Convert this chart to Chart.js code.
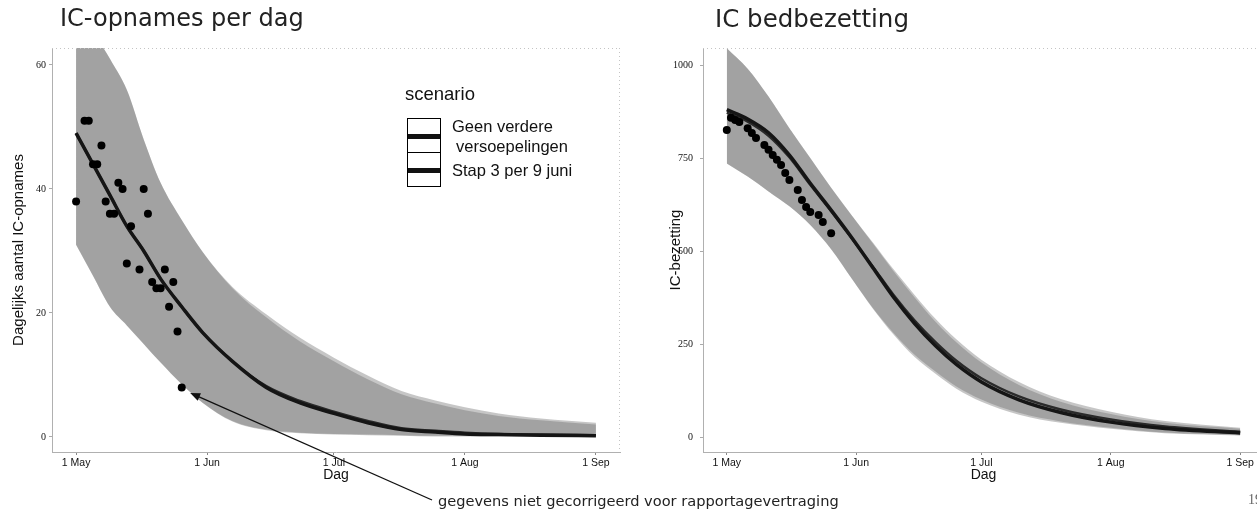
<!DOCTYPE html>
<html>
<head>
<meta charset="utf-8">
<script src="https://cdn.jsdelivr.net/npm/chart.js@4.4.1/dist/chart.umd.min.js"></script>
<style>
  body { margin: 0; background: #fff; width: 1257px; height: 515px; overflow: hidden; position: relative; font-family: "Liberation Sans", Arial, sans-serif; color: #111; }
  canvas { position: absolute; top: 0; }
  .title { position: absolute; top: 4px; font: 24px "DejaVu Sans", sans-serif; color: #222; }
  .abs { position: absolute; white-space: nowrap; }
  .key { position: absolute; left: 407px; width: 32px; height: 33px; border: 1.5px solid #000; border-bottom: none; background: #fff; }
  .key .bar { position: absolute; left: 0; right: 0; top: 15px; height: 5px; background: #111; }
</style>
</head>
<body>
<canvas id="c1" width="630" height="515" style="left:0"></canvas>
<canvas id="c2" width="630" height="515" style="left:640px"></canvas>

<div class="title" style="left:60px">IC-opnames per dag</div>
<div class="title" style="left:715px;font-size:24.5px">IC bedbezetting</div>

<div class="abs" style="left:405px;top:83px;font-size:18.5px">scenario</div>
<div class="key" style="top:118px"><div class="bar"></div></div>
<div class="key" style="top:152px;height:33px;border-bottom:1.5px solid #000"><div class="bar"></div></div>
<div class="abs" style="left:452px;top:117px;font-size:16.5px">Geen verdere</div>
<div class="abs" style="left:456px;top:137px;font-size:16.5px">versoepelingen</div>
<div class="abs" style="left:452px;top:161px;font-size:16.5px">Stap 3 per 9 juni</div>

<div class="abs" style="left:438px;top:492px;font:14.6px 'DejaVu Sans',sans-serif;color:#222">gegevens niet gecorrigeerd voor rapportagevertraging</div>
<div class="abs" style="left:1248px;top:492px;font:14px 'Liberation Serif',serif;color:#666">19</div>

<script>
// days since 1 May
const tickDays = [0, 31, 61, 92, 123];
const tickLabels = ['1 May', '1 Jun', '1 Jul', '1 Aug', '1 Sep'];

// IC-opnames per dag
const opnTicks = [0, 20, 40, 60];
const opnDays = [0, 4, 8, 12, 16, 20, 25, 30, 37, 45, 53, 61, 69, 77, 85, 92, 100, 110, 123];
const opnLine1 = [49, 44, 39, 34, 30, 25.5, 21, 16.8, 12.2, 8, 5.5, 3.8, 2.3, 1.2, 0.8, 0.5, 0.4, 0.3, 0.2];
const opnLine2 = [49, 44, 39, 34, 30, 25.5, 21, 16.8, 12.2, 8.2, 5.8, 4.1, 2.6, 1.4, 1.0, 0.7, 0.5, 0.4, 0.3];
const opnUpper1 = [75, 66, 61, 56, 48, 41, 35, 29.8, 24, 19.3, 15.4, 12.2, 9.3, 6.9, 5.4, 4.3, 3.4, 2.7, 2];
const opnUpper2 = [75, 66, 61, 56, 48, 41, 35, 29.8, 24.2, 19.8, 16, 12.8, 9.9, 7.4, 5.9, 4.8, 3.8, 3.0, 2.3];
const opnLower1 = [31, 26, 21, 18, 15, 12, 8.5, 5.5, 2.5, 1.1, 0.6, 0.4, 0.3, 0.2, 0.1, 0.1, 0.1, 0.1, 0.1];
const opnLower2 = [31, 26, 21, 18, 15, 12, 8.5, 5.5, 2.6, 1.2, 0.7, 0.5, 0.4, 0.3, 0.2, 0.2, 0.2, 0.2, 0.2];
const opnObsDays = [0, 2, 3, 4, 5, 6, 7, 8, 9, 10, 11, 12, 13, 15, 16, 17, 18, 19, 20, 21, 22, 23, 24, 25];
const opnObs = [38, 51, 51, 44, 44, 47, 38, 36, 36, 41, 40, 28, 34, 27, 40, 36, 25, 24, 24, 27, 21, 25, 17, 8];

// IC bedbezetting
const bedTicks = [0, 250, 500, 750, 1000];
const bedDays = [0, 5, 10, 15, 20, 25, 30, 35, 40, 45, 50, 55, 61, 70, 80, 92, 105, 123];
const bedLine1 = [880, 855, 818, 758, 682, 610, 535, 455, 375, 305, 245, 195, 148, 100, 66, 40, 23, 11];
const bedLine2 = [872, 848, 810, 752, 678, 607, 533, 458, 381, 313, 255, 205, 158, 109, 74, 47, 28, 14];
const bedUpper1 = [1045, 990, 915, 830, 750, 670, 595, 520, 445, 375, 310, 255, 200, 140, 95, 62, 38, 22];
const bedUpper2 = [1045, 990, 915, 830, 750, 670, 595, 523, 450, 382, 318, 263, 208, 148, 102, 68, 43, 25];
const bedLower1 = [735, 700, 660, 620, 570, 505, 425, 345, 275, 215, 170, 130, 95, 60, 38, 22, 10, 4];
const bedLower2 = [735, 700, 660, 620, 570, 505, 425, 347, 279, 221, 176, 136, 101, 65, 42, 25, 12, 5];
const bedObsDays = [0, 1, 2, 3, 5, 6, 7, 9, 10, 11, 12, 13, 14, 15, 17, 18, 19, 20, 22, 23, 25];
const bedObs = [825, 858, 852, 847, 830, 817, 804, 785, 772, 758, 745, 731, 710, 691, 664, 637, 618, 605, 597, 578, 548];

const bandFill = 'rgba(105,105,105,0.38)';

function pts(days, vals) {
  return days.map((d, i) => ({ x: d, y: vals[i] }));
}

const frame = {
  id: 'frame',
  afterDraw(chart) {
    const { ctx, chartArea: a } = chart;
    ctx.save();
    ctx.strokeStyle = '#c4c4c4';
    ctx.lineWidth = 1;
    ctx.setLineDash([1, 3]);
    ctx.beginPath();
    ctx.moveTo(a.left, a.top + 0.5);
    ctx.lineTo(a.right, a.top + 0.5);
    ctx.moveTo(a.right - 0.5, a.top);
    ctx.lineTo(a.right - 0.5, a.bottom);
    ctx.stroke();
    ctx.restore();
  }
};

function makeChart(id, o) {
  return new Chart(document.getElementById(id), {
    type: 'line',
    data: {
      datasets: [
        { data: pts(o.obsDays, o.obs), showLine: false, pointRadius: 4, pointBackgroundColor: '#000', pointBorderWidth: 0 },
        { data: pts(o.days, o.line1), borderColor: '#151515', borderWidth: 3.5, pointRadius: 0, cubicInterpolationMode: 'monotone' },
        { data: pts(o.days, o.line2), borderColor: '#2a2a2a', borderWidth: 2.5, pointRadius: 0, cubicInterpolationMode: 'monotone' },
        { data: pts(o.days, o.upper1), borderWidth: 0, pointRadius: 0, fill: '+1', backgroundColor: bandFill, cubicInterpolationMode: 'monotone' },
        { data: pts(o.days, o.lower1), borderWidth: 0, pointRadius: 0, cubicInterpolationMode: 'monotone' },
        { data: pts(o.days, o.upper2), borderWidth: 0, pointRadius: 0, fill: '+1', backgroundColor: bandFill, cubicInterpolationMode: 'monotone' },
        { data: pts(o.days, o.lower2), borderWidth: 0, pointRadius: 0, cubicInterpolationMode: 'monotone' }
      ]
    },
    options: {
      responsive: false,
      animation: false,
      devicePixelRatio: 1,
      layout: { padding: { left: 0, right: o.padRight, top: 48, bottom: 0 } },
      plugins: { legend: { display: false }, tooltip: { enabled: false } },
      scales: {
        x: {
          type: 'linear',
          min: -5.7,
          max: 128.7,
          afterBuildTicks: s => { s.ticks = tickDays.map(v => ({ value: v })); },
          afterFit: s => { s.height = 63; },
          grid: { drawOnChartArea: false, tickLength: 3, color: '#888' },
          border: { color: '#b0b0b0', dash: [1, 2] },
          ticks: {
            padding: 2,
            color: '#111',
            font: { family: 'Liberation Sans', size: 10.5 },
            callback: (v, i) => tickLabels[i]
          },
          title: { display: true, text: 'Dag', color: '#111', font: { family: 'Liberation Sans', size: 14 }, padding: { top: 0, bottom: 31 } }
        },
        y: {
          min: o.yMin,
          max: o.yMax,
          afterBuildTicks: s => { s.ticks = o.yTicks.map(v => ({ value: v })); },
          afterFit: s => { s.width = o.yWidth; },
          grid: { drawOnChartArea: false, tickLength: 3, color: '#aaa' },
          border: { color: '#b0b0b0', dash: [1, 2] },
          ticks: { padding: o.yPad, color: '#111', font: { family: 'Liberation Serif', size: 10 }, callback: v => String(v) },
          title: { display: true, text: o.yTitle, color: '#111', font: { family: 'Liberation Sans', size: 15 }, padding: { top: o.yTitlePad, bottom: 0 } }
        }
      }
    },
    plugins: [frame].concat(o.plugins || [])
  });
}

// arrow pointing at the last (uncorrected) observation
const arrowTip = [27, 7.1];
const arrow = {
  id: 'arrow',
  afterDraw(chart) {
    const { ctx, scales } = chart;
    const tx = scales.x.getPixelForValue(arrowTip[0]);
    const ty = scales.y.getPixelForValue(arrowTip[1]);
    const ex = 432, ey = 500;
    const ang = Math.atan2(ty - ey, tx - ex);
    ctx.save();
    ctx.strokeStyle = '#111';
    ctx.fillStyle = '#111';
    ctx.lineWidth = 1.3;
    ctx.beginPath();
    ctx.moveTo(ex, ey);
    ctx.lineTo(tx - 6 * Math.cos(ang), ty - 6 * Math.sin(ang));
    ctx.stroke();
    ctx.beginPath();
    ctx.moveTo(tx, ty);
    ctx.lineTo(tx - 10 * Math.cos(ang) + 4 * Math.sin(ang), ty - 10 * Math.sin(ang) - 4 * Math.cos(ang));
    ctx.lineTo(tx - 10 * Math.cos(ang) - 4 * Math.sin(ang), ty - 10 * Math.sin(ang) + 4 * Math.cos(ang));
    ctx.closePath();
    ctx.fill();
    ctx.restore();
  }
};

makeChart('c1', {
  days: opnDays, line1: opnLine1, line2: opnLine2,
  upper1: opnUpper1, lower1: opnLower1, upper2: opnUpper2, lower2: opnLower2,
  obsDays: opnObsDays, obs: opnObs,
  yMin: -2.42, yMax: 62.74, yTicks: opnTicks, yWidth: 52, yPad: 3,
  yTitle: 'Dagelijks aantal IC-opnames', yTitlePad: 10, padRight: 10,
  plugins: [arrow]
});

makeChart('c2', {
  days: bedDays, line1: bedLine1, line2: bedLine2,
  upper1: bedUpper1, lower1: bedLower1, upper2: bedUpper2, lower2: bedLower2,
  obsDays: bedObsDays, obs: bedObs,
  yMin: -40.3, yMax: 1045.7, yTicks: bedTicks, yWidth: 63, yPad: 7,
  yTitle: 'IC-bezetting', yTitlePad: 27, padRight: 6
});
</script>
</body>
</html>
